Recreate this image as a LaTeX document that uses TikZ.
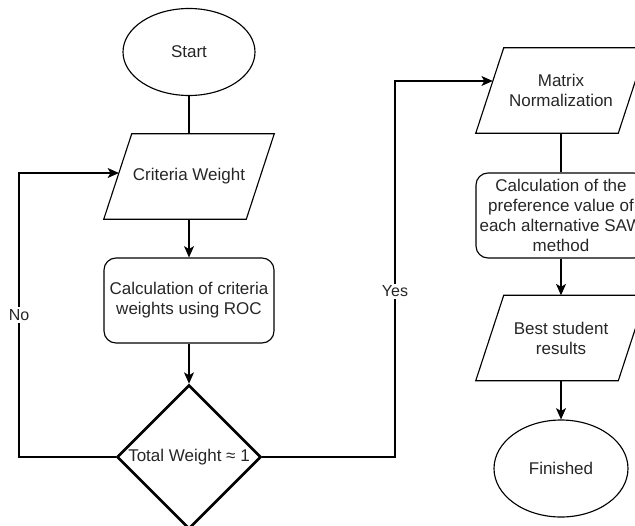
\documentclass[tikz,border=0pt]{standalone}
\usepackage{fontspec}
\setmainfont{Liberation Sans}
\usetikzlibrary{shapes.geometric,arrows.meta,calc}
\newcommand\ioshape[1]{\draw[line] ([xshift=21pt]#1.north west) -- (#1.north east) -- ([xshift=-21pt]#1.south east) -- (#1.south west) -- cycle;}
\begin{document}
\begin{tikzpicture}[x=0.75pt,y=-0.75pt,
  txt/.style={font=\fontsize{12.75}{15}\selectfont, text=black!85, align=center},
  line/.style={line width=0.85pt, draw=black},
  arr/.style={line, -{Stealth[length=8.5pt,width=7.5pt,inset=2.2pt]}},
  term/.style={txt, ellipse, line, inner sep=0pt},
  io/.style={txt, minimum width=127.5pt, minimum height=63.75pt, inner sep=0pt},
  proc/.style={txt, line, rounded corners=9pt, minimum width=127.5pt, minimum height=63.75pt, inner sep=0pt},
  dec/.style={txt, diamond, draw=black, line width=2pt, minimum width=108pt, minimum height=108pt, inner sep=0pt},
  lbl/.style={font=\fontsize{12}{14}\selectfont, text=black!85, fill=white, inner sep=1.5pt}
]
\useasboundingbox (0,0) rectangle (635,525);
% left column
\node[term, minimum width=99pt, minimum height=65.25pt] (S) at (189,52) {Start};
\node[io] (CW) at (189,176.5) {Criteria Weight};
\ioshape{CW}
\node[proc] (ROC) at (189,300.5) {Calculation of criteria\\weights using ROC};
\node[dec] (D) at (189,457) {Total Weight ≈ 1};
% right column
\node[io] (MN) at (561,90.5) {Matrix\\Normalization};
\ioshape{MN}
\node[proc] (SAW) at (561,215.5) {Calculation of the\\preference value of\\each alternative SAW\\method};
\node[io] (BSR) at (561,338) {Best student\\results};
\ioshape{BSR}
\node[term, minimum width=100.5pt, minimum height=72.75pt] (F) at (561,468.5) {Finished};
% helper coordinates
\coordinate (cwin) at ($(CW.west)+(15.2,-3.5)$);
\coordinate (mnin) at ($(MN.west)+(17,-9.5)$);
\coordinate (nox) at (19,0);
\coordinate (yesx) at (395,0);
% connectors
\draw[line] (S) -- (CW.north);
\draw[arr] (CW.south) -- (ROC.north);
\draw[arr] (ROC.south) -- (D.north);
\draw[line] (MN.south) -- (SAW.north);
\draw[arr] (SAW.south) -- (BSR.north);
\draw[arr] (BSR.south) -- (F.north);
\draw[arr] (D.west) -- (D.west -| nox) |- node[lbl, pos=0.25] {No} (cwin);
\draw[arr] (D.east) -- (D.east -| yesx) |- node[lbl, pos=0.22] {Yes} (mnin);
\end{tikzpicture}
\end{document}
